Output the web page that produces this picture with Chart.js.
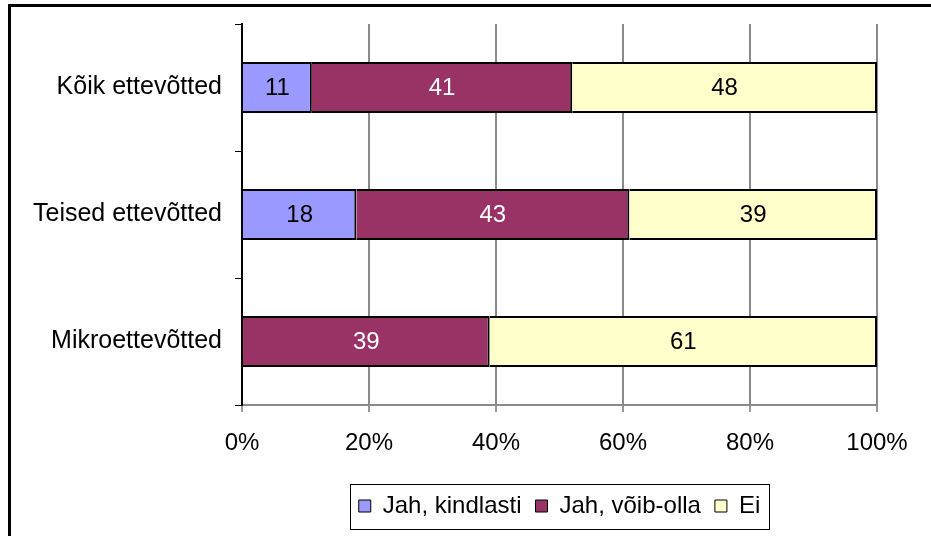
<!DOCTYPE html>
<html>
<head>
<meta charset="utf-8">
<script src="https://cdn.jsdelivr.net/npm/chart.js"></script>
<style>
    body { margin: 0; background: #fff; }
    #wrap { position: relative; width: 931px; height: 536px; }
    #frame {
        position: absolute; left: 8px; top: 4px; width: 1000px; height: 600px;
        border-left: 3px solid #000; border-top: 3px solid #000;
    }
    #chart { position: absolute; left: 0; top: 0; }
</style>
</head>
<body>
<div id="wrap">
    <div id="frame"></div>
    <canvas id="chart" width="931" height="536"></canvas>
</div>
<script>
// Chart data
const categories = ['Kõik ettevõtted', 'Teised ettevõtted', 'Mikroettevõtted'];
const seriesNames = ['Jah, kindlasti', 'Jah, võib-olla', 'Ei'];
const jahKindlasti = [11, 18, 0];
const jahVoibOlla = [41, 43, 39];
const ei = [48, 39, 61];
const xTicks = [0, 20, 40, 60, 80, 100];

const FONT = 'Liberation Sans, Arial, sans-serif';
Chart.defaults.font.family = FONT;
Chart.defaults.font.size = 24;
Chart.defaults.color = '#000';

// Numbers written inside each bar segment
const barLabels = {
    id: 'barLabels',
    afterDatasetsDraw(chart) {
        const ctx = chart.ctx;
        ctx.save();
        ctx.font = '24px ' + FONT;
        ctx.textAlign = 'center';
        ctx.textBaseline = 'middle';
        chart.data.datasets.forEach((ds, di) => {
            const meta = chart.getDatasetMeta(di);
            meta.data.forEach((bar, i) => {
                const v = ds.data[i];
                if (!v) return;
                ctx.fillStyle = ds.labelColor;
                ctx.fillText(String(v), (bar.x + bar.base) / 2, bar.y + 1);
            });
        });
        ctx.restore();
    }
};

// Box round the legend
const legendFrame = {
    id: 'legendFrame',
    afterDraw(chart) {
        const lg = chart.legend;
        if (!lg || !lg.legendHitBoxes.length) return;
        const boxes = lg.legendHitBoxes;
        const left = Math.min(...boxes.map(b => b.left)) - 9;
        const right = Math.max(...boxes.map(b => b.left + b.width)) + 9;
        const mid = boxes[0].top + boxes[0].height / 2;
        const ctx = chart.ctx;
        ctx.save();
        ctx.strokeStyle = '#000';
        ctx.lineWidth = 1;
        ctx.strokeRect(Math.round(left) + 0.5, Math.round(mid - 22) + 0.5, Math.round(right - left), 45);
        ctx.restore();
    }
};

function makeDataset(label, data, color, labelColor) {
    return {
        label: label,
        data: data,
        backgroundColor: color,
        borderColor: '#000',
        borderWidth: 2,
        labelColor: labelColor,
        barPercentage: 0.4,
        categoryPercentage: 1
    };
}

document.addEventListener('DOMContentLoaded', function () {
    const ctx = document.getElementById('chart').getContext('2d');
    new Chart(ctx, {
        type: 'bar',
        data: {
            labels: categories,
            datasets: [
                makeDataset(seriesNames[0], jahKindlasti, '#9999FF', '#000'),
                makeDataset(seriesNames[1], jahVoibOlla, '#993366', '#fff'),
                makeDataset(seriesNames[2], ei, '#FFFFCC', '#000')
            ]
        },
        options: {
            indexAxis: 'y',
            responsive: false,
            animation: false,
            layout: {
                padding: { left: 0, right: 54, top: 24, bottom: 8 }
            },
            scales: {
                x: {
                    stacked: true,
                    min: 0,
                    max: 100,
                    afterBuildTicks: function (scale) {
                        scale.ticks = xTicks.map(v => ({ value: v }));
                    },
                    afterFit: function (scale) {
                        scale.height = 75;
                    },
                    ticks: {
                        padding: 17,
                        callback: function (v) { return v + '%'; }
                    },
                    grid: {
                        color: '#8a8a8a',
                        lineWidth: 2,
                        tickLength: 7,
                        tickColor: '#333',
                        tickWidth: 1
                    },
                    border: { color: '#8a8a8a', width: 2 }
                },
                y: {
                    stacked: true,
                    afterFit: function (scale) {
                        scale.width = 242;
                        scale.paddingTop = 0;
                        scale.paddingBottom = 0;
                    },
                    ticks: { padding: 13, font: { size: 25 } },
                    grid: {
                        drawOnChartArea: false,
                        tickLength: 7,
                        tickColor: '#000',
                        tickWidth: 1
                    },
                    border: { color: '#000', width: 2 }
                }
            },
            plugins: {
                legend: {
                    position: 'bottom',
                    fullSize: false,
                    labels: {
                        boxWidth: 12,
                        boxHeight: 12,
                        padding: 14,
                        font: { size: 24 },
                        generateLabels: function (chart) {
                            return Chart.defaults.plugins.legend.labels.generateLabels(chart).map(it => {
                                it.lineWidth = 1;
                                return it;
                            });
                        }
                    }
                },
                tooltip: { enabled: false }
            }
        },
        plugins: [barLabels, legendFrame]
    });
});
</script>
</body>
</html>
